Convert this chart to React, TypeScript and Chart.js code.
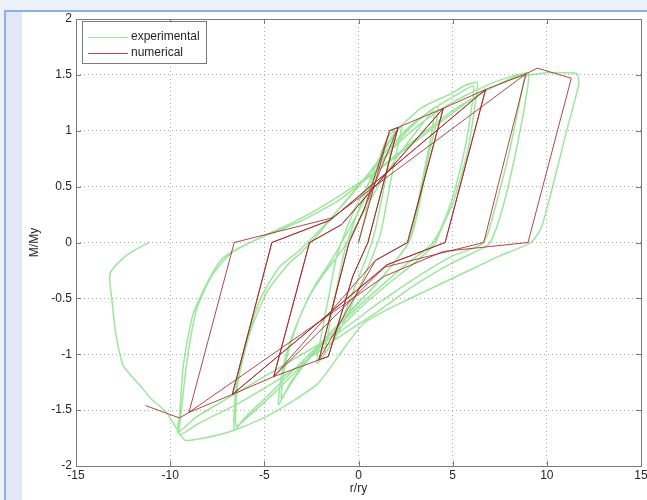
import React, { useEffect, useRef } from "react";
import { Chart, registerables } from "chart.js";

Chart.register(...registerables);

type Pt = [number, number];

const seriesNames = ["experimental", "numerical"];
const xTicks = [-15, -10, -5, 0, 5, 10, 15];
const yTicks = [-2, -1.5, -1, -0.5, 0, 0.5, 1, 1.5, 2];
const xTitle = "r/ry";
const yTitle = "M/My";

// ---- numerical model (red) ----
const numCyclesSmall: Pt[] = [
  [0, 0], [1.65, 1.0], [2.1, 1.03],
  [0.5, 0], [-0.3, -0.3], [-1.6, -1.02], [-2.1, -1.05],
  [-0.5, 0], [0.3, 0.3], [1.65, 1.0], [2.1, 1.03],
  [0.5, 0], [-0.3, -0.3], [-1.6, -1.02], [-2.1, -1.05],
  [-0.5, 0],
];
const numCycles4: Pt[] = [
  [0.3, 0.3], [2.1, 1.03], [4.5, 1.2],
  [2.6, 0], [0.9, -0.16], [-2.1, -1.05], [-4.5, -1.2],
  [-2.6, 0], [-0.9, 0.16], [4.5, 1.2],
  [2.6, 0], [0.9, -0.16], [-4.5, -1.2],
  [-2.6, 0],
];
const numCycles6: Pt[] = [
  [-0.9, 0.16], [4.5, 1.2], [6.75, 1.37],
  [4.6, 0], [1.5, -0.2], [-4.5, -1.2], [-6.7, -1.36],
  [-4.6, 0], [-1.5, 0.2], [6.75, 1.37],
  [4.6, 0], [1.5, -0.2], [-6.7, -1.36],
  [-4.6, 0],
];
const numCycles9: Pt[] = [
  [-1.5, 0.2], [6.75, 1.37], [8.9, 1.51],
  [6.65, 0], [1.4, -0.22], [-6.7, -1.36], [-9.0, -1.52],
  [-6.6, 0], [-1.4, 0.22], [8.9, 1.51], [9.5, 1.56], [11.3, 1.47],
  [9.0, 0], [4.5, -0.08], [1.4, -0.3], [-9.0, -1.52], [-9.5, -1.57], [-11.3, -1.46],
];

// ---- experimental (green) ----
const expCyclesSmall: Pt[] = [
  [0, 0], [0.6, 0.4], [1.2, 0.8], [1.6, 0.95], [1.9, 1.0],
  [1.7, 0.8], [1.3, 0.45], [0.9, 0.12], [0.5, -0.1],
  [-0.2, -0.4], [-0.9, -0.7], [-1.5, -0.92], [-1.8, -1.0],
  [-1.6, -0.8], [-1.2, -0.45], [-0.8, -0.12], [-0.4, 0.1],
  [0.3, 0.42], [1.0, 0.72], [1.7, 0.93], [2.3, 1.04],
  [2.0, 0.8], [1.6, 0.45], [1.2, 0.1], [0.8, -0.1],
  [0.0, -0.42], [-0.8, -0.72], [-1.6, -0.95], [-2.2, -1.08],
  [-2.0, -0.85], [-1.6, -0.5], [-1.2, -0.15], [-0.8, 0.05],
];
const expCycles4: Pt[] = [
  [-0.2, 0.3], [0.6, 0.55], [1.6, 0.8], [2.6, 1.0], [3.5, 1.14], [4.2, 1.22],
  [4.1, 1.05], [3.7, 0.76], [3.3, 0.4], [2.9, 0.1], [2.6, -0.02],
  [1.8, -0.2], [0.8, -0.4], [-0.5, -0.62], [-1.8, -0.88], [-3.0, -1.12], [-3.8, -1.32], [-4.25, -1.45],
  [-4.1, -1.2], [-3.75, -0.95], [-3.2, -0.7], [-2.5, -0.45], [-1.7, -0.25], [-0.8, -0.05],
  [0.2, 0.25], [1.2, 0.55], [2.3, 0.82], [3.2, 1.02], [4.0, 1.18],
  [3.9, 1.0], [3.5, 0.65], [3.1, 0.3], [2.7, 0.02],
  [1.8, -0.2], [0.5, -0.45], [-1.0, -0.72], [-2.5, -1.0], [-3.6, -1.25], [-4.1, -1.4],
  [-3.95, -1.15], [-3.6, -0.9], [-3.0, -0.62], [-2.3, -0.38], [-1.4, -0.15], [-0.4, 0.15],
];
const expCycles6: Pt[] = [
  [0.5, 0.45], [1.3, 0.8], [2.2, 1.03], [3.3, 1.2], [4.1, 1.27], [4.9, 1.33], [5.6, 1.4], [6.3, 1.43],
  [6.2, 1.25], [5.8, 0.82], [5.05, 0.37], [4.5, 0.16], [4.0, -0.02],
  [3.0, -0.18], [1.5, -0.38], [0.0, -0.6], [-1.5, -0.85], [-3.0, -1.1], [-4.5, -1.35], [-5.8, -1.55], [-6.5, -1.64],
  [-6.4, -1.25], [-5.75, -0.8], [-4.85, -0.44], [-3.6, -0.17], [-3.1, -0.1],
  [-2.0, 0.1], [-0.8, 0.35], [0.2, 0.55], [1.4, 0.8], [2.8, 1.05], [4.2, 1.22], [5.3, 1.33], [6.1, 1.4],
  [6.0, 1.2], [5.6, 0.8], [4.9, 0.35], [4.3, 0.1], [3.8, -0.03],
  [2.5, -0.2], [1.0, -0.42], [-0.5, -0.65], [-2.0, -0.9], [-3.5, -1.15], [-5.0, -1.4], [-6.1, -1.58], [-6.6, -1.68],
  [-6.5, -1.3], [-6.0, -0.9], [-5.2, -0.5], [-4.2, -0.22], [-3.2, -0.08],
];
const expCycles9: Pt[] = [
  [-2.0, 0.12], [-0.5, 0.4], [1.0, 0.7], [2.5, 0.95], [4.0, 1.15], [5.5, 1.3], [7.0, 1.42], [8.0, 1.48], [8.8, 1.51],
  [8.7, 1.38], [7.9, 0.73], [7.2, 0.28], [6.85, 0.07], [6.5, -0.02],
  [5.0, -0.12], [3.0, -0.32], [1.0, -0.55], [-1.0, -0.8], [-3.0, -1.0], [-5.0, -1.2], [-7.0, -1.4], [-8.6, -1.56], [-9.6, -1.7],
  [-9.5, -1.55], [-9.3, -1.1], [-8.8, -0.65], [-8.0, -0.35], [-7.2, -0.14], [-5.75, 0.0],
  [-3.1, 0.19], [-1.1, 0.37], [0.27, 0.55], [1.7, 0.73], [4.0, 1.03], [6.0, 1.28], [7.5, 1.42], [9.0, 1.52],
  [8.9, 1.3], [8.4, 0.85], [7.8, 0.4], [7.3, 0.12], [6.9, -0.02],
  [5.0, -0.18], [3.0, -0.38], [1.0, -0.62], [-1.5, -0.9], [-4.0, -1.2], [-6.5, -1.45], [-8.5, -1.62], [-9.5, -1.72],
  [-9.4, -1.5], [-9.1, -1.05], [-8.6, -0.6], [-7.8, -0.3], [-6.8, -0.1], [-5.5, 0.02],
];
const expCycles11: Pt[] = [
  [-3.0, 0.22], [-1.0, 0.42], [1.0, 0.65], [3.0, 0.92], [5.0, 1.18], [7.0, 1.38], [8.5, 1.48], [10.0, 1.52], [11.0, 1.52], [11.6, 1.51],
  [11.7, 1.42], [11.1, 1.03], [10.2, 0.43], [9.7, 0.13], [9.15, 0.0],
  [7.5, -0.12], [5.0, -0.32], [2.5, -0.52], [0.3, -0.72], [-1.0, -1.0], [-2.2, -1.27], [-4.8, -1.55], [-6.6, -1.68], [-8.2, -1.75], [-9.2, -1.77],
];
const expFinal: Pt[] = [
  [-9.6, -1.68], [-10.2, -1.52], [-11.0, -1.4], [-11.6, -1.28], [-12.5, -1.1], [-12.9, -0.8],
  [-13.1, -0.5], [-13.2, -0.28], [-12.5, -0.14], [-11.8, -0.06], [-11.1, 0.0],
];

const experimental: Pt[] = [
  ...expCyclesSmall, ...expCycles4, ...expCycles6, ...expCycles9, ...expCycles11, ...expFinal,
];
const numerical: Pt[] = [...numCyclesSmall, ...numCycles4, ...numCycles6, ...numCycles9];

const GREEN = "rgba(60,205,60,0.5)";
const RED = "rgba(165,40,40,0.85)";
const FONT = "'Liberation Sans', Arial, sans-serif";

const decor = {
  id: "decor",
  afterDraw(chart: any) {
    const { ctx, chartArea: a, scales } = chart;
    ctx.save();
    ctx.strokeStyle = "#7a7a7a";
    ctx.lineWidth = 1;
    ctx.strokeRect(Math.round(a.left) + 0.5, Math.round(a.top) + 0.5, Math.round(a.right - a.left), Math.round(a.bottom - a.top));
    ctx.beginPath();
    for (const v of xTicks) {
      const px = Math.round(scales.x.getPixelForValue(v)) + 0.5;
      ctx.moveTo(px, a.bottom); ctx.lineTo(px, a.bottom - 5);
      ctx.moveTo(px, a.top); ctx.lineTo(px, a.top + 5);
    }
    for (const v of yTicks) {
      const py = Math.round(scales.y.getPixelForValue(v)) + 0.5;
      ctx.moveTo(a.left, py); ctx.lineTo(a.left + 5, py);
      ctx.moveTo(a.right, py); ctx.lineTo(a.right - 5, py);
    }
    ctx.stroke();
    const lx = 82, ly = 21, lw = 124, lh = 42;
    ctx.fillStyle = "#ffffff";
    ctx.fillRect(lx, ly, lw, lh);
    ctx.strokeStyle = "#7a7a7a";
    ctx.strokeRect(lx + 0.5, ly + 0.5, lw, lh);
    const colors = [GREEN, RED];
    ctx.font = `12px ${FONT}`;
    ctx.textAlign = "left";
    ctx.textBaseline = "middle";
    seriesNames.forEach((name, i) => {
      const yy = ly + 16 + i * 16;
      ctx.strokeStyle = colors[i];
      ctx.lineWidth = 1.2;
      ctx.beginPath();
      ctx.moveTo(lx + 6, yy + 0.5);
      ctx.lineTo(lx + 46, yy + 0.5);
      ctx.stroke();
      ctx.fillStyle = "#262626";
      ctx.fillText(name, lx + 49, yy);
    });
    ctx.fillStyle = "#262626";
    ctx.textAlign = "center";
    ctx.fillText(xTitle, (a.left + a.right) / 2, 489);
    ctx.translate(35, (a.top + a.bottom) / 2);
    ctx.rotate(-Math.PI / 2);
    ctx.fillText(yTitle, 0, 0);
    ctx.restore();
  },
};

export default function App() {
  const ref = useRef<HTMLCanvasElement | null>(null);
  useEffect(() => {
    if (!ref.current) return;
    const chart = new Chart(ref.current, {
      type: "scatter",
      data: {
        datasets: [
          {
            label: seriesNames[0],
            data: experimental.map(([x, y]) => ({ x, y })),
            showLine: true,
            borderColor: GREEN,
            backgroundColor: GREEN,
            borderWidth: 1.5,
            pointRadius: 0,
            tension: 0.2,
            order: 1,
          },
          {
            label: seriesNames[1],
            data: numerical.map(([x, y]) => ({ x, y })),
            showLine: true,
            borderColor: RED,
            backgroundColor: RED,
            borderWidth: 1,
            pointRadius: 0,
            tension: 0,
            order: 0,
          },
        ],
      },
      options: {
        responsive: false,
        animation: false,
        devicePixelRatio: 1,
        layout: { padding: { top: 19, right: 6, left: 0, bottom: 0 } },
        plugins: { legend: { display: false }, tooltip: { enabled: false } },
        scales: {
          x: {
            type: "linear",
            min: -15,
            max: 15,
            afterBuildTicks: (s: any) => { s.ticks = xTicks.map((v) => ({ value: v })); },
            afterFit: (s: any) => { s.height = 34; s.paddingLeft = 0; s.paddingRight = 0; },
            ticks: { color: "#262626", font: { family: FONT, size: 12 }, padding: 2, maxRotation: 0, autoSkip: false, callback: (v: any) => String(v) },
            grid: { color: "#b0b0b0", drawTicks: false, lineWidth: 1 },
            border: { display: false, dash: [1, 3] },
          },
          y: {
            type: "linear",
            min: -2,
            max: 2,
            afterBuildTicks: (s: any) => { s.ticks = yTicks.map((v) => ({ value: v })); },
            afterFit: (s: any) => { s.width = 76; s.paddingTop = 0; s.paddingBottom = 0; },
            ticks: { color: "#262626", font: { family: FONT, size: 12 }, padding: 4, autoSkip: false, callback: (v: any) => String(v) },
            grid: { color: "#b0b0b0", drawTicks: false, lineWidth: 1 },
            border: { display: false, dash: [1, 3] },
          },
        },
      },
      plugins: [decor],
    });
    return () => chart.destroy();
  }, []);

  return (
    <div style={{ position: "fixed", left: 0, top: 0, width: 647, height: 500, background: "#edf1f7", overflow: "hidden" }}>
      <div style={{ position: "absolute", left: 4, top: 10, right: 0, bottom: 0, background: "#8db2df" }} />
      <div style={{ position: "absolute", left: 6, top: 12, right: 0, bottom: 0, background: "#dfe8f4" }} />
      <div style={{ position: "absolute", left: 22, top: 12, right: 0, bottom: 0, background: "#ffffff" }} />
      <canvas ref={ref} width={647} height={500} style={{ position: "absolute", left: 0, top: 0, display: "block" }} />
    </div>
  );
}
